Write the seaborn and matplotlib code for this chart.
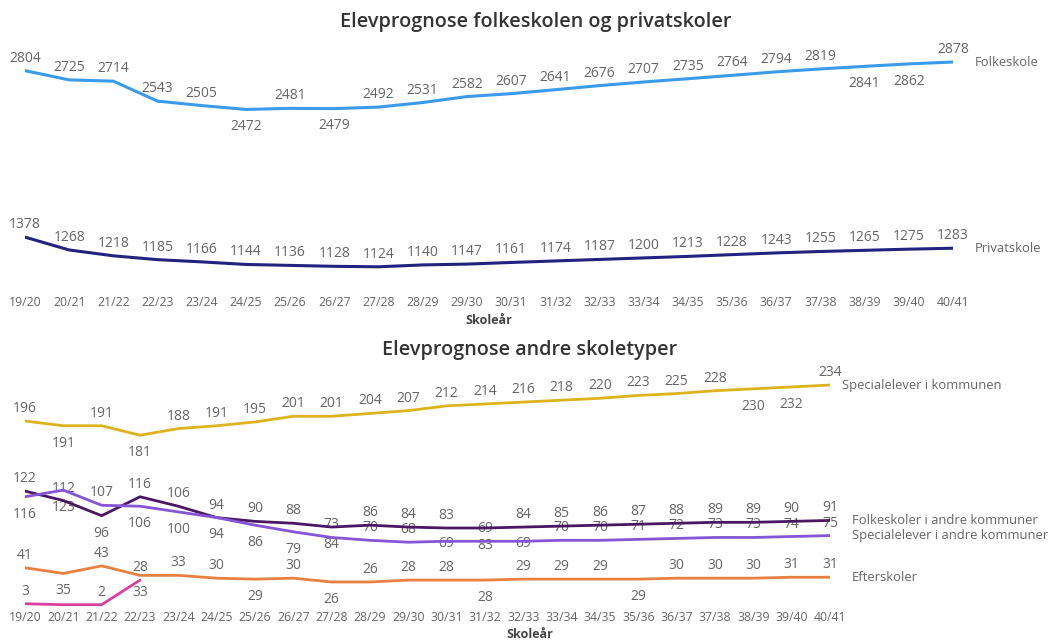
import pandas as pd
import seaborn as sns
import matplotlib.pyplot as plt

# --- Data --------------------------------------------------------------------
years = ["19/20", "20/21", "21/22", "22/23", "23/24", "24/25", "25/26", "26/27",
         "27/28", "28/29", "29/30", "30/31", "31/32", "32/33", "33/34", "34/35",
         "35/36", "36/37", "37/38", "38/39", "39/40", "40/41"]

folkeskole = [2804, 2725, 2714, 2543, 2505, 2472, 2481, 2479, 2492, 2531, 2582,
              2607, 2641, 2676, 2707, 2735, 2764, 2794, 2819, 2841, 2862, 2878]
privatskole = [1378, 1268, 1218, 1185, 1166, 1144, 1136, 1128, 1124, 1140, 1147,
               1161, 1174, 1187, 1200, 1213, 1228, 1243, 1255, 1265, 1275, 1283]

spec_kommunen = [196, 191, 191, 181, 188, 191, 195, 201, 201, 204, 207,
                 212, 214, 216, 218, 220, 223, 225, 228, 230, 232, 234]
folkeskoler_andre = [122, 112, 96, 116, 106, 94, 90, 88, 84, 86, 84,
                     83, 83, 84, 85, 86, 87, 88, 89, 89, 90, 91]
spec_andre = [116, 123, 107, 106, 100, 94, 86, 79, 73, 70, 68,
              69, 69, 69, 70, 70, 71, 72, 73, 73, 74, 75]
efterskoler = [41, 35, 43, 33, 33, 30, 29, 30, 26, 26, 28,
               28, 28, 29, 29, 29, 29, 30, 30, 30, 31, 31]
oevrige = [3, 2, 2, 28]  # only the first four school years

top_series = {"Folkeskole": folkeskole, "Privatskole": privatskole}
bottom_series = {
    "Specialelever i kommunen": spec_kommunen,
    "Folkeskoler i andre kommuner": folkeskoler_andre,
    "Specialelever i andre kommuner": spec_andre,
    "Efterskoler": efterskoler,
    "Øvrige": oevrige,
}

# --- Style -------------------------------------------------------------------
palette = {
    "Folkeskole": "#3a9bea",
    "Privatskole": "#23237f",
    "Specialelever i kommunen": "#dcb31c",
    "Folkeskoler i andre kommuner": "#4a1863",
    "Specialelever i andre kommuner": "#8455d4",
    "Efterskoler": "#e8803f",
    "Øvrige": "#d8409f",
}

# data label placement: a = above, b = below, c = on the line, - = hidden
placement = {
    "Folkeskole": "aaaaababaaaaaaaaaaabba",
    "Privatskole": "a" * 22,
    "Specialelever i kommunen": "abab" + "a" * 15 + "bba",
    "Folkeskoler i andre kommuner": "aab" + "aaaaa" + "b" + "aaa" + "b" + "a" * 9,
    "Specialelever i andre kommuner": "bba" + "bbbbb" + "aaa" + "cac" + "a" * 8,
    "Efterskoler": "abab" + "aa" + "bab" + "aaa" + "b" + "aaa" + "b" + "aaaaa",
    "Øvrige": "a-aa",
}
label_dy = {"a": 9, "b": -12.5, "c": -1.5}
end_label_dx = {
    "Folkeskole": 16, "Privatskole": 16,
    "Specialelever i kommunen": 9, "Folkeskoler i andre kommuner": 16,
    "Specialelever i andre kommuner": 16, "Efterskoler": 16,
}

sns.set_theme(style="white")
plt.rcParams["font.family"] = ["Open Sans", "DejaVu Sans"]

GREY = "#666666"
W, H = 1055, 642


def to_long(series):
    rows = [(name, i, v) for name, vals in series.items() for i, v in enumerate(vals)]
    return pd.DataFrame(rows, columns=["serie", "pos", "value"])


def px_rect(left, top, right, bottom):
    return [left / W, 1 - bottom / H, (right - left) / W, (bottom - top) / H]


def draw_panel(ax, series, ylim, tick_pad, lw):
    df = to_long(series)
    names = list(series)
    sns.lineplot(data=df, x="pos", y="value", hue="serie", hue_order=names,
                 palette=palette, linewidth=lw, legend=False, ax=ax, zorder=2)
    for name in names:
        sub = df[df["serie"] == name]
        for x, v, p in zip(sub["pos"], sub["value"], placement[name]):
            if p == "-":
                continue
            ax.annotate(str(v), (x, v), xytext=(0, label_dy[p]), textcoords="offset points",
                        ha="center", va="center", fontsize=10, color=GREY,
                        zorder=1.5, annotation_clip=False)
        if name in end_label_dx:
            last = sub.iloc[-1]
            ax.annotate(name, (last["pos"], last["value"]),
                        xytext=(end_label_dx[name], 0), textcoords="offset points",
                        ha="left", va="center", fontsize=9.4, color=GREY,
                        annotation_clip=False)
    ax.set_xlim(0, len(years) - 1)
    ax.set_ylim(*ylim)
    ax.set_xticks(range(len(years)))
    ax.set_xticklabels(years)
    ax.set_yticks([])
    ax.set_ylabel("")
    ax.tick_params(axis="x", length=0, pad=tick_pad, labelsize=8.8, labelcolor=GREY)
    sns.despine(ax=ax, left=True, bottom=True)
    ax.set_xlabel("Skoleår", fontsize=9, fontweight="bold", color="#444444")
    ax.xaxis.label.set_va("center")


fig = plt.figure(figsize=(W / 100, H / 100), dpi=100)

ax_top = fig.add_axes(px_rect(25, 50, 953, 285))
draw_panel(ax_top, top_series, (968, 2981), tick_pad=8.0, lw=2.2)
ax_top.xaxis.set_label_coords(0.5, (285 - 320) / 235)

ax_bot = fig.add_axes(px_rect(25, 375, 830, 610))
draw_panel(ax_bot, bottom_series, (-3.6, 244.6), tick_pad=0.5, lw=2.0)
ax_bot.xaxis.set_label_coords((530 - 25) / 805, (610 - 635) / 235)

fig.text(536 / W, 1 - 22 / H, "Elevprognose folkeskolen og privatskoler",
         ha="center", va="center", fontsize=14.2, fontweight="semibold", color="#333333")
fig.text(530 / W, 1 - 350 / H, "Elevprognose andre skoletyper",
         ha="center", va="center", fontsize=14.2, fontweight="semibold", color="#333333")

fig.savefig("out.png", dpi=100, facecolor="white")
